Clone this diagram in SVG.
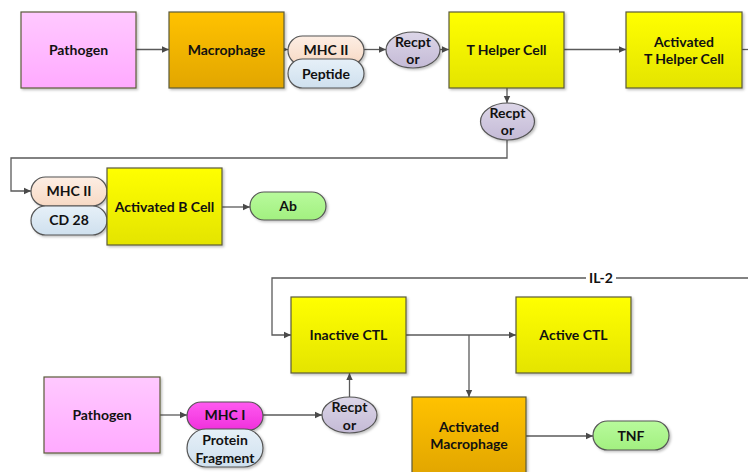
<svg xmlns="http://www.w3.org/2000/svg" width="748" height="472" viewBox="0 0 748 472">
<defs>
<linearGradient id="gPink" x1="0" y1="0" x2="0" y2="1"><stop offset="0" stop-color="#FFC9FF"/><stop offset="1" stop-color="#FFAAFF"/></linearGradient>
<linearGradient id="gOrange" x1="0" y1="0" x2="0" y2="1"><stop offset="0" stop-color="#FFC200"/><stop offset="1" stop-color="#E2A600"/></linearGradient>
<linearGradient id="gYellow" x1="0" y1="0" x2="0" y2="1"><stop offset="0" stop-color="#FFFF00"/><stop offset="1" stop-color="#E4E400"/></linearGradient>
<linearGradient id="gPeach" x1="0" y1="0" x2="0" y2="1"><stop offset="0" stop-color="#FDEEE4"/><stop offset="1" stop-color="#F7D9C4"/></linearGradient>
<linearGradient id="gBlue" x1="0" y1="0" x2="0" y2="1"><stop offset="0" stop-color="#E6F0F8"/><stop offset="1" stop-color="#CFE0EE"/></linearGradient>
<linearGradient id="gLav" x1="0" y1="0" x2="0" y2="1"><stop offset="0" stop-color="#DCD6E8"/><stop offset="1" stop-color="#C4BAD6"/></linearGradient>
<linearGradient id="gGreen" x1="0" y1="0" x2="0" y2="1"><stop offset="0" stop-color="#B8FA9C"/><stop offset="1" stop-color="#A2F080"/></linearGradient>
<linearGradient id="gMag" x1="0" y1="0" x2="0" y2="1"><stop offset="0" stop-color="#FF5AF0"/><stop offset="1" stop-color="#F030DC"/></linearGradient>
<filter id="sh" x="-10%" y="-10%" width="130%" height="130%"><feDropShadow dx="1.5" dy="1.5" stdDeviation="1" flood-color="#000" flood-opacity="0.25"/></filter>
<marker id="arr" markerWidth="8" markerHeight="8" refX="7" refY="4" orient="auto" markerUnits="userSpaceOnUse"><path d="M0,0.8 L7,4 L0,7.2 Z" fill="#4a4a4a"/></marker>
</defs>
<style>
.box{stroke:#5a5a3a;stroke-width:1.2;filter:url(#sh)}
.pill{stroke:#555;stroke-width:1.2;filter:url(#sh)}
.t{font-family:Lato,"Open Sans","Liberation Sans",sans-serif;font-weight:bold;font-size:14px;fill:#111;text-anchor:middle}
.c{fill:none;stroke:#5a5a5a;stroke-width:1.3}
.a{marker-end:url(#arr)}
</style>
<rect width="748" height="472" fill="#fff"/>
<g id="connectors">
<path class="c a" d="M136 49.5 H169"/>
<path class="c a" d="M284 49.5 H288"/>
<path class="c a" d="M364 49.5 H386"/>
<path class="c a" d="M440 49.5 H449"/>
<path class="c a" d="M564 49.5 H626"/>
<path class="c" d="M742 49.5 H748"/>
<path class="c a" d="M507 88 V103"/>
<path class="c a" d="M507 140 V158 H11 V191 H31"/>
<path class="c a" d="M222 207 H250"/>
<path class="c a" d="M748 278 H272 V335 H291"/>
<path class="c a" d="M406 335 H516"/>
<path class="c a" d="M469 335 V397"/>
<path class="c a" d="M160 415 H187"/>
<path class="c a" d="M263 415 H322"/>
<path class="c a" d="M349.5 397 V373"/>
<path class="c a" d="M526 436 H593"/>
<rect x="586" y="270" width="30" height="16" fill="#fff"/>
<text class="t" x="601" y="283">IL-2</text>
</g>
<g id="pathogen1"><rect class="box" x="21" y="12" width="115" height="76" fill="url(#gPink)"/><text class="t" x="78.5" y="55">Pathogen</text></g>
<g id="macrophage"><rect class="box" x="169" y="12" width="115" height="76" fill="url(#gOrange)"/><text class="t" x="226.5" y="55">Macrophage</text></g>
<g id="mhc2a"><rect class="pill" x="288" y="36" width="76" height="29" rx="14.5" fill="url(#gPeach)"/><text class="t" x="326" y="55">MHC II</text></g>
<g id="peptide"><rect class="pill" x="288" y="59" width="76" height="29" rx="14.5" fill="url(#gBlue)"/><text class="t" x="326" y="79">Peptide</text></g>
<g id="receptor1"><ellipse class="pill" cx="413" cy="50" rx="27" ry="18" fill="url(#gLav)"/><text class="t" x="413" y="47">Recpt</text><text class="t" x="413" y="64">or</text></g>
<g id="thelper"><rect class="box" x="449" y="12" width="115" height="76" fill="url(#gYellow)"/><text class="t" x="506.5" y="55">T Helper Cell</text></g>
<g id="activatedThelper"><rect class="box" x="626" y="12" width="116" height="76" fill="url(#gYellow)"/><text class="t" x="684" y="47">Activated</text><text class="t" x="684" y="64">T Helper Cell</text></g>
<g id="receptor2"><ellipse class="pill" cx="507.5" cy="121.5" rx="27" ry="18.5" fill="url(#gLav)"/><text class="t" x="507.5" y="118">Recpt</text><text class="t" x="507.5" y="135">or</text></g>
<g id="mhc2b"><rect class="pill" x="31" y="177" width="76" height="29" rx="14.5" fill="url(#gPeach)"/><text class="t" x="69" y="196">MHC II</text></g>
<g id="cd28"><rect class="pill" x="31" y="206" width="76" height="29" rx="14.5" fill="url(#gBlue)"/><text class="t" x="69" y="225">CD 28</text></g>
<g id="activatedB"><rect class="box" x="107" y="168" width="115" height="77" fill="url(#gYellow)"/><text class="t" x="164.5" y="212">Activated B Cell</text></g>
<g id="ab"><rect class="pill" x="250" y="192" width="76" height="28" rx="14" fill="url(#gGreen)"/><text class="t" x="288" y="211">Ab</text></g>
<g id="inactiveCTL"><rect class="box" x="291" y="297" width="115" height="76" fill="url(#gYellow)"/><text class="t" x="348.5" y="340">Inactive CTL</text></g>
<g id="activeCTL"><rect class="box" x="516" y="297" width="115" height="76" fill="url(#gYellow)"/><text class="t" x="573.5" y="340">Active CTL</text></g>
<g id="pathogen2"><rect class="box" x="44" y="377" width="116" height="76" fill="url(#gPink)"/><text class="t" x="102" y="420">Pathogen</text></g>
<g id="mhc1"><rect class="pill" x="187" y="402" width="76" height="28" rx="14" fill="url(#gMag)"/><text class="t" x="225" y="420">MHC I</text></g>
<g id="proteinFragment"><rect class="pill" x="187" y="429" width="76" height="38" rx="19" fill="url(#gBlue)"/><text class="t" x="225" y="445">Protein</text><text class="t" x="225" y="463">Fragment</text></g>
<g id="receptor3"><ellipse class="pill" cx="349.5" cy="415" rx="27.5" ry="18" fill="url(#gLav)"/><text class="t" x="349.5" y="412">Recpt</text><text class="t" x="349.5" y="430">or</text></g>
<g id="activatedMacrophage"><rect class="box" x="412" y="397" width="114" height="77" fill="url(#gOrange)"/><text class="t" x="469" y="432">Activated</text><text class="t" x="469" y="449">Macrophage</text></g>
<g id="tnf"><rect class="pill" x="593" y="421" width="76" height="29" rx="14.5" fill="url(#gGreen)"/><text class="t" x="631" y="441">TNF</text></g>
</svg>
